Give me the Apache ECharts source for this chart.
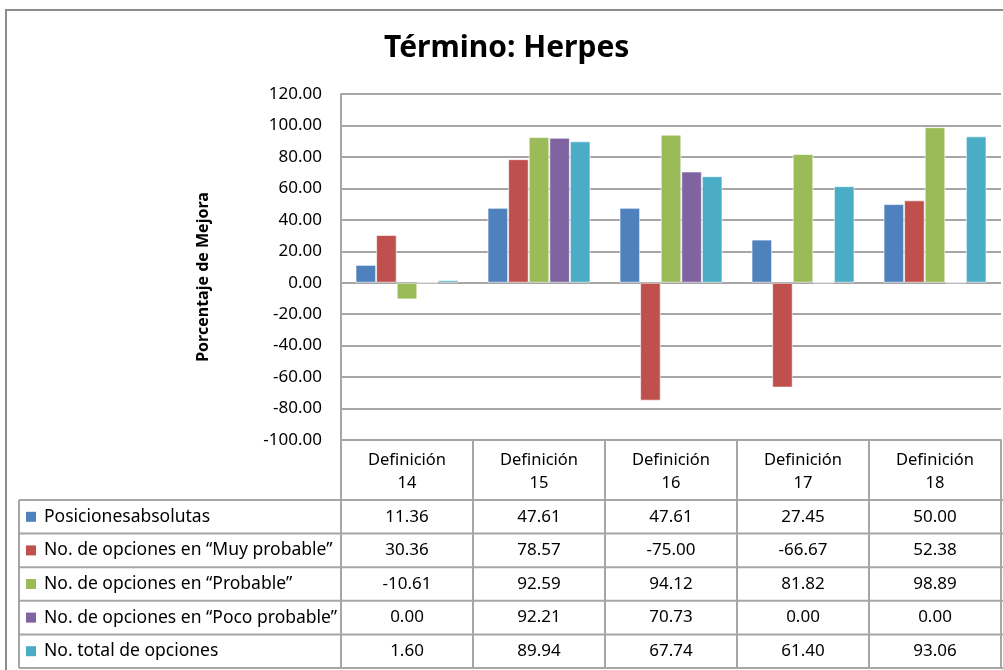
<!DOCTYPE html>
<html>
<head>
<meta charset="utf-8">
<script src="https://cdn.jsdelivr.net/npm/echarts@6/dist/echarts.min.js"></script>
<style>
  html, body { margin: 0; padding: 0; background: #fff; }
  #chart { width: 1003px; height: 670px; }
</style>
</head>
<body>
<div id="chart"></div>
<script>
var categories = ['Definición\n14', 'Definición\n15', 'Definición\n16', 'Definición\n17', 'Definición\n18'];
var seriesNames = [
	'Posicionesabsolutas',
	'No. de opciones en “Muy probable”',
	'No. de opciones en “Probable”',
	'No. de opciones en “Poco probable”',
	'No. total de opciones'
];
var posicionesAbs = [11.36, 47.61, 47.61, 27.45, 50.00];
var muyProbable = [30.36, 78.57, -75.00, -66.67, 52.38];
var probable = [-10.61, 92.59, 94.12, 81.82, 98.89];
var pocoProbable = [0.00, 92.21, 70.73, 0.00, 0.00];
var totalOpciones = [1.60, 89.94, 67.74, 61.40, 93.06];
var colors = ['#4F81BD', '#C0504D', '#9BBB59', '#8064A2', '#4BACC6'];

var allSeries = [posicionesAbs, muyProbable, probable, pocoProbable, totalOpciones];

var font = '"Noto Sans"';
var lineColor = '#a6a6a6';
var gridLeft = 341, gridTop = 94, gridW = 660, gridH = 346;
var headerH = 60, rowH = 33.6, legendLeft = 19;

var chart = echarts.init(document.getElementById('chart'));

var series = [];
for (var s = 0; s < allSeries.length; s++) {
	series.push({
		name: seriesNames[s],
		type: 'bar',
		barGap: 0,
		barCategoryGap: '22%',
		itemStyle: { color: colors[s], borderColor: 'rgba(255,255,255,0.6)', borderWidth: 1 },
		data: allSeries[s]
	});
}

var option = {
	animation: false,
	title: {
		text: 'Término: Herpes',
		left: 379,
		top: 28,
		textStyle: { fontFamily: font, fontSize: 30, fontWeight: 'bold', color: '#000' }
	},
	grid: { left: gridLeft, top: gridTop, width: gridW, height: gridH },
	xAxis: {
		type: 'category',
		data: categories,
		axisLine: { onZero: false, lineStyle: { color: lineColor, width: 2 } },
		axisTick: { show: false },
		axisLabel: {
			fontFamily: font, fontSize: 16.5, color: '#000',
			lineHeight: 23, margin: 9
		}
	},
	yAxis: {
		type: 'value',
		min: -100,
		max: 120,
		interval: 20,
		name: 'Porcentaje de Mejora',
		nameLocation: 'middle',
		nameGap: 130,
		nameTextStyle: { fontFamily: font, fontSize: 16, fontWeight: 'bold', color: '#000', padding: [0, 20, 0, 0] },
		axisLine: { show: true, lineStyle: { color: lineColor, width: 2 } },
		axisTick: { show: false },
		splitLine: { lineStyle: { color: lineColor, width: 2 } },
		axisLabel: {
			fontFamily: font, fontSize: 17, color: '#000', margin: 19,
			formatter: function (v) { return v.toFixed(2); }
		}
	},
	series: series
};
chart.setOption(option);

// tabla de datos debajo del eje
function buildTable() {
	var g = [];
	var top = gridTop + gridH;
	var band = gridW / categories.length;
	var rowsTop = top + headerH;
	var bottom = rowsTop + rowH * allSeries.length;
	var right = gridLeft + gridW + 20;

	// bordes verticales de columnas
	for (var i = 0; i <= categories.length; i++) {
		var x = gridLeft + i * band;
		g.push({ type: 'line', shape: { x1: x, y1: top, x2: x, y2: bottom },
			style: { stroke: lineColor, lineWidth: 2 } });
	}
	g.push({ type: 'line', shape: { x1: legendLeft, y1: rowsTop, x2: legendLeft, y2: bottom },
		style: { stroke: lineColor, lineWidth: 2 } });

	// filas
	for (var r = 0; r <= allSeries.length; r++) {
		var y = rowsTop + r * rowH;
		g.push({ type: 'line', shape: { x1: legendLeft, y1: y, x2: right, y2: y },
			style: { stroke: lineColor, lineWidth: 2 } });
	}

	for (var s = 0; s < allSeries.length; s++) {
		var cy = rowsTop + s * rowH + rowH / 2;
		g.push({ type: 'rect', shape: { x: legendLeft + 7, y: cy - 5, width: 10, height: 10 },
			style: { fill: colors[s] } });
		g.push({ type: 'text', x: legendLeft + 25, y: cy,
			style: { text: seriesNames[s], font: '17.5px ' + font, fill: '#000', textVerticalAlign: 'middle' } });
		for (var c = 0; c < categories.length; c++) {
			var cx = chart.convertToPixel({ xAxisIndex: 0 }, c);
			g.push({ type: 'text', x: cx, y: cy,
				style: { text: allSeries[s][c].toFixed(2), font: '17px ' + font, fill: '#000',
					textAlign: 'center', textVerticalAlign: 'middle' } });
		}
	}

	// borde del area del grafico
	g.push({ type: 'rect', shape: { x: 6, y: 10, width: 1100, height: 700 },
		style: { fill: null, stroke: '#8c8c8c', lineWidth: 2 } });

	chart.setOption({ graphic: g });
}
buildTable();
</script>
</body>
</html>
